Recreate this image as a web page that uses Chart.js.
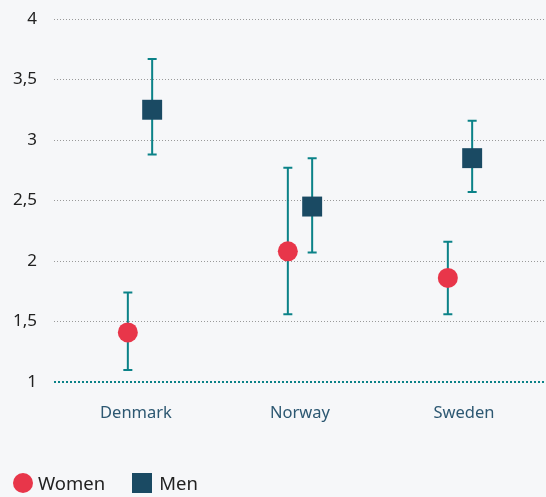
<!DOCTYPE html>
<html>
<head>
<meta charset="utf-8">
<script src="https://cdn.jsdelivr.net/npm/chart.js@4.4.1/dist/chart.umd.min.js"></script>
<style>
  html, body { margin: 0; padding: 0; background: #f6f7f9; }
  #wrap { position: relative; width: 546px; height: 497px; }
  #legend { position: absolute; left: 13px; top: 471px; display: flex; align-items: center;
    font-family: "Noto Sans", sans-serif; font-size: 18.5px; color: #222; line-height: 24px; }
  .item { display: flex; align-items: center; margin-right: 27px; }
  .dot { width: 20px; height: 20px; border-radius: 50%; background: #e8364a; margin-right: 5px; }
  .sq { width: 20px; height: 20px; background: #1a4a63; margin-right: 7px; }
</style>
</head>
<body>
<div id="wrap">
  <canvas id="chart" width="546" height="497"></canvas>
  <div id="legend">
    <div class="item"><div class="dot"></div>Women</div>
    <div class="item"><div class="sq"></div>Men</div>
  </div>
</div>
<script>
const categories = ['Denmark', 'Norway', 'Sweden'];
const womenMean = [1.41, 2.08, 1.86];
const womenLow  = [1.10, 1.56, 1.56];
const womenHigh = [1.74, 2.77, 2.16];
const menMean = [3.25, 2.45, 2.85];
const menLow  = [2.88, 2.07, 2.57];
const menHigh = [3.67, 2.85, 3.16];

const dodge = 0.076;
const teal = '#0b8288';

const womenPts = womenMean.map((v, i) => ({x: i - dodge, y: v, lo: womenLow[i], hi: womenHigh[i]}));
const menPts = menMean.map((v, i) => ({x: i + dodge, y: v, lo: menLow[i], hi: menHigh[i]}));

// error bars + teal dotted baseline
const extras = {
  id: 'extras',
  beforeDatasetsDraw(chart) {
    const {ctx, chartArea, scales} = chart;
    const y = scales.y, x = scales.x2;
    ctx.save();
    // baseline at 1
    const by = Math.round(y.getPixelForValue(1));
    ctx.strokeStyle = teal;
    ctx.lineWidth = 2;
    ctx.setLineDash([2, 2]);
    ctx.beginPath();
    ctx.moveTo(chartArea.left, by);
    ctx.lineTo(chartArea.right, by);
    ctx.stroke();
    ctx.setLineDash([]);
    chart.data.datasets.forEach(ds => {
      ds.data.forEach(p => {
        const px = x.getPixelForValue(p.x);
        const top = y.getPixelForValue(p.hi);
        const bot = y.getPixelForValue(p.lo);
        ctx.beginPath();
        ctx.moveTo(px, top);
        ctx.lineTo(px, bot);
        ctx.moveTo(px - 4.5, top);
        ctx.lineTo(px + 4.5, top);
        ctx.moveTo(px - 4.5, bot);
        ctx.lineTo(px + 4.5, bot);
        ctx.stroke();
      });
    });
    ctx.restore();
  }
};

new Chart(document.getElementById('chart'), {
  type: 'scatter',
  data: {
    labels: categories,
    datasets: [
      { label: 'Women', data: womenPts, xAxisID: 'x2', pointStyle: 'circle', pointRadius: 10,
        pointHoverRadius: 10, backgroundColor: '#e8364a', borderWidth: 0 },
      { label: 'Men', data: menPts, xAxisID: 'x2', pointStyle: 'rect', pointRadius: 14.1,
        pointHoverRadius: 14.1, backgroundColor: '#1a4a63', borderWidth: 0 }
    ]
  },
  options: {
    responsive: false,
    animation: false,
    layout: { autoPadding: false, padding: { top: 19, right: 0, left: 0, bottom: 0 } },
    plugins: { legend: { display: false }, tooltip: { enabled: false } },
    scales: {
      x: {
        type: 'category',
        labels: categories,
        offset: true,
        grid: { display: false },
        border: { display: false },
        ticks: { color: '#2d5872', font: { family: 'Noto Sans', size: 16.5 }, padding: 13 },
        afterFit(scale) { scale.height = 115; }
      },
      x2: {
        type: 'linear',
        display: false,
        min: -0.5375,
        max: 2.5375
      },
      y: {
        min: 1,
        max: 4,
        ticks: {
          stepSize: 0.5,
          color: '#222',
          padding: 17,
          font: { family: 'Noto Sans', size: 17 },
          callback: v => String(v).replace('.', ',')
        },
        grid: {
          drawTicks: false,
          color: c => c.tick && c.tick.value === 1 ? 'rgba(0,0,0,0)' : '#9a9a9a',
          lineWidth: 1
        },
        border: { display: false, dash: [1, 2] },
        afterFit(scale) {
          scale.width = 54;
          scale.paddingTop = 0;
          scale.paddingBottom = 0;
        }
      }
    }
  },
  plugins: [extras]
});
</script>
</body>
</html>
